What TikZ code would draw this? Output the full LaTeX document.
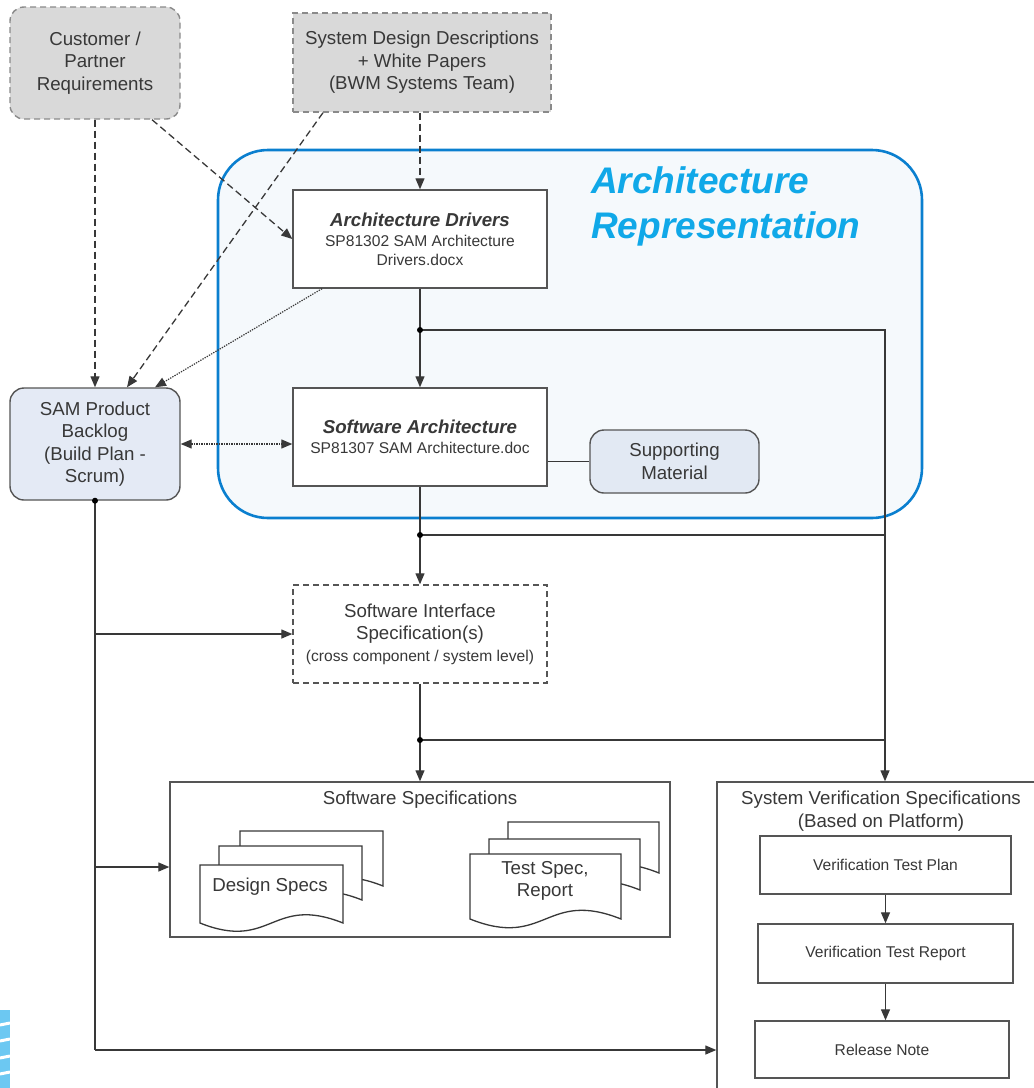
\documentclass[tikz,border=0pt]{standalone}
\usepackage{fontspec}
\setmainfont{Liberation Sans}
\usetikzlibrary{arrows.meta}
\definecolor{linegray}{HTML}{555555}
\definecolor{txtgray}{HTML}{383838}
\definecolor{dashgray}{HTML}{8A8A8A}
\definecolor{topfill}{HTML}{D9D9D9}
\definecolor{contblue}{HTML}{0A7FCF}
\definecolor{contfill}{HTML}{F5F9FC}
\definecolor{backfill}{HTML}{E4EAF5}
\definecolor{supfill}{HTML}{E2E9F3}
\definecolor{titlecyan}{HTML}{10A8E8}
\definecolor{stripe}{HTML}{6CC8F2}
\newcommand\mainsz{\fontsize{18.7}{22.5}\selectfont}
\newcommand\smallsz{\fontsize{15.6}{18.5}\selectfont}
\newcommand\docpage[4]{\filldraw[docstyle] (#1,#2) -- (#1,#2+#4) .. controls (#1+0.5*#3,#2+#4+0.2*#3) and (#1+0.5*#3,#2+#4-0.2*#3) .. (#1+#3,#2+#4) -- (#1+#3,#2) -- cycle;}
\begin{document}
\begin{tikzpicture}[x=1pt,y=-1pt,
  every node/.style={text=txtgray, inner sep=0pt},
  box/.style={draw=linegray, line width=1.4pt, fill=white, align=center},
  topbox/.style={draw=dashgray, dash pattern=on 6pt off 4pt, line width=1.4pt, fill=topfill, align=center, font=\mainsz},
  arr/.style={-{Triangle[length=11pt,width=9pt]}, draw=txtgray, line width=1.3pt},
  darr/.style={arr, dash pattern=on 7pt off 4pt},
  dotarr/.style={arr, dash pattern=on 1.3pt off 1.2pt, line width=1.2pt},
  plain/.style={draw=txtgray, line width=1.3pt},
  docstyle/.style={draw=txtgray, line width=1.3pt, fill=white},
  jdot/.style={circle, fill=black, minimum size=6pt, inner sep=0pt}
]
\useasboundingbox (0,0) rectangle (1034,1088);
\clip (0,0) rectangle (1034,1088);

% decorative stripes bottom-left
\fill[stripe] (0,1010) rectangle (10,1088);
\foreach \yy in {1024,1040,1057,1073}{\draw[white, line width=3pt] (0,\yy+1) -- (10,\yy-1);}

% container
\node[draw=contblue, line width=2.6pt, fill=contfill, rounded corners=50pt, minimum width=704pt, minimum height=368pt] (arch) at (570,334) {};
\node[anchor=west, align=left, font=\bfseries\itshape\fontsize{37}{45}\selectfont, text=titlecyan] (artitle) at (591,206) {Architecture\\Representation};

% top boxes
\node[topbox, rounded corners=14pt, minimum width=170pt, minimum height=112pt] (cust) at (95,63) {Customer /\\Partner\\Requirements};
\node[topbox, minimum width=258pt, minimum height=99pt] (sd) at (422,62.5) {System Design Descriptions\\+ White Papers\\(BWM Systems Team)};

% architecture boxes
\node[box, minimum width=254pt, minimum height=98pt, font=\smallsz] (ad) at (420,239) {{\mainsz\bfseries\itshape Architecture Drivers}\\[2pt]SP81302 SAM Architecture\\Drivers.docx};
\node[box, minimum width=254pt, minimum height=98pt, font=\smallsz] (sa) at (420,437) {{\mainsz\bfseries\itshape Software Architecture}\\[1pt]SP81307 SAM Architecture.doc};
\node[box, fill=supfill, rounded corners=14pt, minimum width=169pt, minimum height=63pt, font=\mainsz] (sup) at (674.5,461.5) {Supporting\\Material};
\node[box, fill=backfill, rounded corners=14pt, minimum width=170pt, minimum height=112pt, font=\mainsz] (backlog) at (95,444) {SAM Product\\Backlog\\(Build Plan -\\Scrum)};

% interface spec
\node[box, draw=linegray, dash pattern=on 6pt off 4pt, minimum width=254pt, minimum height=98pt, font=\mainsz] (is) at (420,634) {Software Interface\\Specification(s)\\[-1pt]{\smallsz (cross component / system level)}};

% software specifications
\node[box, minimum width=500pt, minimum height=155pt] (ss) at (420,859.5) {};
\node[font=\mainsz] (sstitle) at (420,800) {Software Specifications};
\docpage{240}{831}{143}{55}
\docpage{219}{846}{143}{54}
\docpage{200}{865}{143}{58}
\node[font=\mainsz] (dslabel) at (270,887) {Design Specs};
\docpage{508}{822}{151}{51}
\docpage{489}{839}{151}{51}
\docpage{470}{854}{151}{65}
\node[font=\mainsz, align=center] (tslabel) at (545,881) {Test Spec,\\Report};

% system verification
\node[box, minimum width=323pt, minimum height=318pt] (sv) at (878.5,941) {};
\node[font=\mainsz, align=center] (svtitle) at (881,811) {System Verification Specifications\\(Based on Platform)};
\node[box, minimum width=251pt, minimum height=58pt, font=\smallsz] (vtp) at (885.5,865) {Verification Test Plan};
\node[box, minimum width=255pt, minimum height=59pt, font=\smallsz] (vtr) at (885.5,953.5) {Verification Test Report};
\node[box, minimum width=254pt, minimum height=57pt, font=\smallsz] (rn) at (882,1049.5) {Release Note};

% dashed inputs
\draw[darr] (cust.south) -- (backlog.north);
\draw[darr] ([xshift=57pt]cust.south) -- (ad.west);
\draw[darr] ([xshift=-99pt]sd.south) -- ([xshift=32pt]backlog.north);
\draw[darr] (ad.north |- sd.south) -- (ad.north);
\draw[dotarr] ([xshift=-98pt]ad.south) -- ([xshift=60pt]backlog.north);

% main flow
\coordinate (j1) at (420,330);
\coordinate (r1) at (885,330);
\coordinate (j2) at (420,535);
\coordinate (r2) at (885,535);
\coordinate (j3) at (420,740);
\coordinate (r3) at (885,740);
\draw[arr] (ad.south) -- (sa.north);
\draw[arr] (sa.south) -- (is.north);
\draw[arr] (is.south) -- (ss.north);
\draw[arr] (j1) -- (r1) -- (sv.north -| r1);
\draw[plain] (j2) -- (r2);
\draw[plain] (j3) -- (r3);
\node[jdot] (d1) at (j1) {};
\node[jdot] (d2) at (j2) {};
\node[jdot] (d3) at (j3) {};

% backlog <-> software architecture
\draw[dotarr, {Triangle[length=11pt,width=9pt]}-{Triangle[length=11pt,width=9pt]}] (backlog.east) -- (backlog.east -| sa.west);
\draw[plain] (sup.west -| sa.east) -- (sup.west);

% backlog distribution
\coordinate (b2) at (95,634);
\coordinate (b3) at (95,867);
\coordinate (b4) at (95,1050);
\draw[draw=txtgray, line width=2.2pt] (backlog.south) -- (b4);
\draw[arr] (b2) -- (is.west);
\draw[arr] (b3) -- (ss.west |- b3);
\draw[arr] (b4) -- (sv.west |- b4);
\node[jdot] (d0) at (backlog.south) {};

% verification chain
\draw[arr] (vtp.south) -- (vtr.north);
\draw[arr] (vtr.south) -- (vtr.south |- rn.north);
\end{tikzpicture}
\end{document}
